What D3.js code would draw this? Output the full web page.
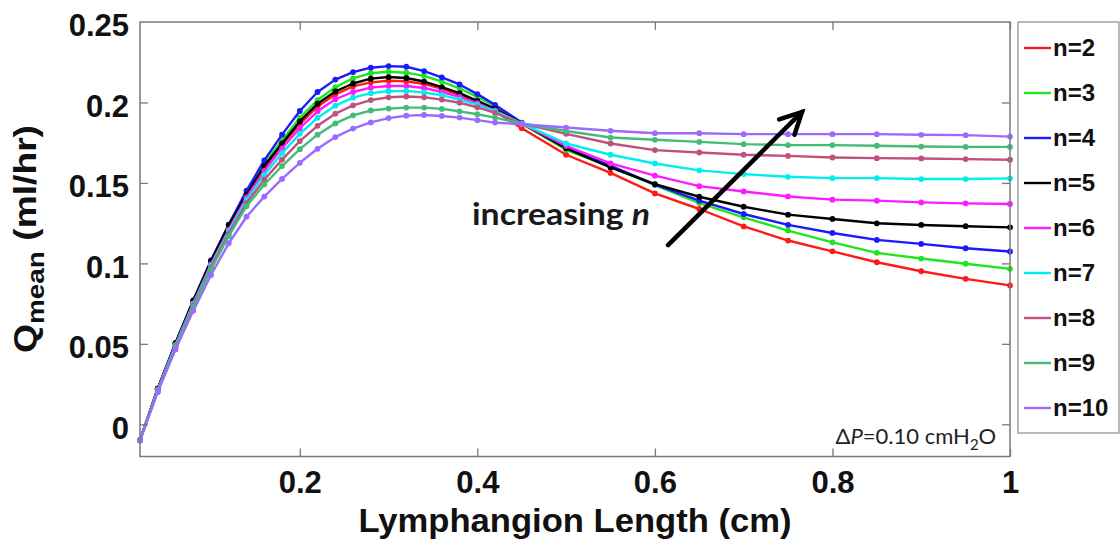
<!DOCTYPE html>
<html><head><meta charset="utf-8">
<script src="https://cdn.jsdelivr.net/npm/d3@7"></script>
<style>body{margin:0;background:#fff} svg{display:block}</style>
</head><body>
<svg id="chart" width="1120" height="544"></svg>
<script>
// ---------- data ----------
const lengths = [0.02,0.04,0.06,0.08,0.10,0.12,0.14,0.16,0.18,0.20,0.22,0.24,0.26,0.28,0.30,0.32,0.34,0.36,0.38,0.40,0.42,0.45,0.50,0.55,0.60,0.65,0.70,0.75,0.80,0.85,0.90,0.95,1.00];

const q_n2  = [-0.0098,0.0218,0.0497,0.0757,0.1000,0.1218,0.1420,0.1590,0.1735,0.1865,0.1975,0.2050,0.2100,0.2125,0.2135,0.2132,0.2115,0.2085,0.2045,0.2000,0.1945,0.1840,0.1675,0.1562,0.1435,0.1338,0.1230,0.1142,0.1075,0.1007,0.0951,0.0904,0.0863];
const q_n3  = [-0.0098,0.0220,0.0501,0.0764,0.1009,0.1229,0.1435,0.1620,0.1765,0.1905,0.2015,0.2095,0.2150,0.2182,0.2191,0.2185,0.2165,0.2130,0.2088,0.2035,0.1975,0.1870,0.1705,0.1600,0.1487,0.1375,0.1286,0.1204,0.1131,0.1065,0.1030,0.0998,0.0966];
const q_n4  = [-0.0098,0.0222,0.0505,0.0770,0.1018,0.1241,0.1452,0.1640,0.1800,0.1947,0.2065,0.2142,0.2189,0.2216,0.2226,0.2222,0.2195,0.2156,0.2112,0.2052,0.1985,0.1875,0.1720,0.1607,0.1490,0.1390,0.1307,0.1239,0.1189,0.1146,0.1121,0.1094,0.1074];
const q_n5  = [-0.0098,0.0222,0.0504,0.0769,0.1016,0.1239,0.1428,0.1605,0.1745,0.1882,0.1992,0.2068,0.2118,0.2148,0.2158,0.2152,0.2130,0.2095,0.2058,0.2010,0.1960,0.1870,0.1715,0.1596,0.1493,0.1414,0.1352,0.1303,0.1276,0.1249,0.1239,0.1231,0.1224];
const q_n6  = [-0.0099,0.0216,0.0494,0.0752,0.0994,0.1210,0.1410,0.1575,0.1715,0.1840,0.1945,0.2020,0.2065,0.2092,0.2102,0.2102,0.2090,0.2065,0.2035,0.1995,0.1950,0.1868,0.1730,0.1621,0.1545,0.1480,0.1447,0.1416,0.1396,0.1390,0.1379,0.1373,0.1369];
const q_n7  = [-0.0099,0.0214,0.0491,0.0747,0.0986,0.1199,0.1395,0.1550,0.1685,0.1805,0.1905,0.1980,0.2030,0.2058,0.2070,0.2072,0.2062,0.2045,0.2018,0.1985,0.1945,0.1870,0.1745,0.1675,0.1621,0.1578,0.1555,0.1538,0.1530,0.1530,0.1524,0.1524,0.1528];
const q_n8  = [-0.0099,0.0211,0.0486,0.0739,0.0975,0.1185,0.1375,0.1520,0.1645,0.1760,0.1855,0.1930,0.1982,0.2015,0.2032,0.2037,0.2032,0.2018,0.1998,0.1970,0.1935,0.1868,0.1805,0.1745,0.1704,0.1689,0.1675,0.1668,0.1658,0.1654,0.1652,0.1648,0.1644];
const q_n9  = [-0.0099,0.0208,0.0480,0.0730,0.0962,0.1169,0.1355,0.1490,0.1605,0.1710,0.1800,0.1870,0.1920,0.1950,0.1962,0.1968,0.1968,0.1960,0.1945,0.1927,0.1906,0.1869,0.1823,0.1782,0.1768,0.1755,0.1741,0.1735,0.1735,0.1731,0.1726,0.1724,0.1724];
const q_n10 = [-0.0100,0.0200,0.0465,0.0705,0.0928,0.1125,0.1290,0.1415,0.1525,0.1625,0.1712,0.1785,0.1838,0.1876,0.1903,0.1918,0.1922,0.1916,0.1906,0.1890,0.1875,0.1865,0.1844,0.1824,0.1809,0.1809,0.1803,0.1803,0.1803,0.1803,0.1799,0.1797,0.1788];

const seriesNames  = ["n=2","n=3","n=4","n=5","n=6","n=7","n=8","n=9","n=10"];
const seriesValues = [q_n2,q_n3,q_n4,q_n5,q_n6,q_n7,q_n8,q_n9,q_n10];
const seriesColors = ["#ff1a1a","#1ee61e","#1a1aff","#000000","#ff1aff","#00eeee","#c0507e","#44bb77","#9b6bff"];

const xTicks = [0.2,0.4,0.6,0.8,1];
const xTickLabels = ["0.2","0.4","0.6","0.8","1"];
const yTicks = [0,0.05,0.1,0.15,0.2,0.25];
const yTickLabels = ["0","0.05","0.1","0.15","0.2","0.25"];

// annotation anchors in data units
const arrowFrom = [0.6148, 0.1114];
const arrowTo   = [0.7657, 0.1941];
const noteIncreasing = [0.394, 0.1238];
const noteDeltaP = [0.9845, -0.0125];   // right end / baseline of the text

// ---------- drawing ----------
const svg = d3.select("#chart");
const W = 1120, H = 544;
const x = d3.scaleLinear().domain([0.02, 1]).range([140, 1010]);
const y = d3.scaleLinear().domain([-0.02, 0.25]).range([456.5, 22]);
const font = "'Liberation Sans', Arial, Helvetica, sans-serif";
const frameColor = "#7a7a7a";

svg.append("rect").attr("width", W).attr("height", H).attr("fill", "#fff");

// curves
const line = d3.line().x((d, i) => x(lengths[i])).y(d => y(d));
seriesValues.forEach((vals, k) => {
  const g = svg.append("g");
  g.append("path").attr("d", line(vals)).attr("fill", "none")
    .attr("stroke", seriesColors[k]).attr("stroke-width", 2.4)
    .attr("stroke-linejoin", "round");
  g.selectAll("circle").data(vals).join("circle")
    .attr("cx", (d, i) => x(lengths[i])).attr("cy", d => y(d))
    .attr("r", 2.9).attr("fill", seriesColors[k]);
});

// frame
const [x0, x1] = x.range();
const [y0, y1] = y.range();
svg.append("rect").attr("x", x0).attr("y", y1).attr("width", x1 - x0).attr("height", y0 - y1)
  .attr("fill", "none").attr("stroke", frameColor).attr("stroke-width", 1.5);

// axes
const gBottom = svg.append("g").attr("transform", `translate(0,${y0})`)
  .call(d3.axisBottom(x).tickValues(xTicks).tickSize(-8).tickPadding(14)
    .tickFormat((d, i) => xTickLabels[i]));
const gTop = svg.append("g").attr("transform", `translate(0,${y1})`)
  .call(d3.axisTop(x).tickValues(xTicks).tickSize(-8).tickFormat(""));
const gLeft = svg.append("g").attr("transform", `translate(${x0},0)`)
  .call(d3.axisLeft(y).tickValues(yTicks).tickSize(-8).tickPadding(11)
    .tickFormat((d, i) => yTickLabels[i]));
const gRight = svg.append("g").attr("transform", `translate(${x1},0)`)
  .call(d3.axisRight(y).tickValues(yTicks).tickSize(-8).tickFormat(""));
[gBottom, gTop, gLeft, gRight].forEach(g => {
  g.select(".domain").remove();
  g.selectAll(".tick line").attr("stroke", frameColor).attr("stroke-width", 1.3);
  g.selectAll(".tick text").attr("fill", "#111").attr("font-family", font)
    .attr("font-weight", "bold").attr("font-size", 31);
});
gLeft.selectAll(".tick text").attr("dy", "0.45em");
gRight.selectAll(".tick").filter(d => d > 0.249).remove();
gLeft.selectAll(".tick line").filter(d => d > 0.249).remove();

// axis titles
svg.append("text").attr("x", (x0 + x1) / 2).attr("y", 532)
  .attr("text-anchor", "middle").attr("font-family", font).attr("font-weight", "bold")
  .attr("font-size", 34).attr("fill", "#111")
  .attr("textLength", 433).attr("lengthAdjust", "spacingAndGlyphs")
  .text("Lymphangion Length (cm)");

const yt = svg.append("text").attr("transform", "translate(36,239) rotate(-90)")
  .attr("text-anchor", "middle").attr("font-family", font).attr("font-weight", "bold")
  .attr("font-size", 32).attr("fill", "#111")
  .attr("textLength", 228).attr("lengthAdjust", "spacingAndGlyphs");
yt.append("tspan").text("Q");
yt.append("tspan").attr("font-size", 24).attr("dy", 8).text("mean");
yt.append("tspan").attr("dy", -8).text("\u00a0(ml/hr)");

// annotations
svg.append("line").attr("x1", x(arrowFrom[0])).attr("y1", y(arrowFrom[1]))
  .attr("x2", x(arrowTo[0])).attr("y2", y(arrowTo[1]))
  .attr("stroke", "#000").attr("stroke-width", 4.5).attr("stroke-linecap", "round");
{
  const tx = x(arrowTo[0]), ty = y(arrowTo[1]);
  const ang = Math.atan2(y(arrowFrom[1]) - ty, x(arrowFrom[0]) - tx);
  const L = 24, spread = 0.47;
  const p1 = [tx + L * Math.cos(ang + spread), ty + L * Math.sin(ang + spread)];
  const p2 = [tx + L * Math.cos(ang - spread), ty + L * Math.sin(ang - spread)];
  svg.append("path").attr("d", `M${p1[0]},${p1[1]}L${tx},${ty}L${p2[0]},${p2[1]}`)
    .attr("fill", "none").attr("stroke", "#000").attr("stroke-width", 4.5)
    .attr("stroke-linejoin", "miter").attr("stroke-linecap", "round");
}

const inc = svg.append("text").attr("x", x(noteIncreasing[0])).attr("y", y(noteIncreasing[1]))
  .attr("font-family", "Lato, 'Open Sans', sans-serif").attr("font-weight", "bold")
  .attr("font-size", 31).attr("fill", "#1a1a1a")
  .attr("textLength", 178).attr("lengthAdjust", "spacingAndGlyphs");
inc.append("tspan").text("increasing ");
inc.append("tspan").attr("font-style", "italic").text("n");

const dp = svg.append("text").attr("x", x(noteDeltaP[0])).attr("y", y(noteDeltaP[1]))
  .attr("text-anchor", "end")
  .attr("font-family", "Lato, 'Open Sans', sans-serif")
  .attr("font-size", 22).attr("fill", "#222");
dp.append("tspan").text("\u0394");
dp.append("tspan").attr("font-style", "italic").text("P");
dp.append("tspan").text("=0.10 cmH");
dp.append("tspan").attr("font-size", 15).attr("dy", 6).text("2");
dp.append("tspan").attr("dy", -6).text("O");

// legend
const lg = svg.append("g");
lg.append("rect").attr("x", 1018).attr("y", 22).attr("width", 101).attr("height", 411)
  .attr("fill", "#fff").attr("stroke", "#8a8a8a").attr("stroke-width", 1.2);
seriesNames.forEach((name, k) => {
  const cy = 48 + k * 45;
  lg.append("line").attr("x1", 1024).attr("x2", 1051).attr("y1", cy).attr("y2", cy)
    .attr("stroke", seriesColors[k]).attr("stroke-width", 2.4);
  lg.append("text").attr("x", 1053).attr("y", cy + 8)
    .attr("font-family", font).attr("font-weight", "bold").attr("font-size", 24)
    .attr("fill", "#111").text(name);
});
</script>
</body></html>
